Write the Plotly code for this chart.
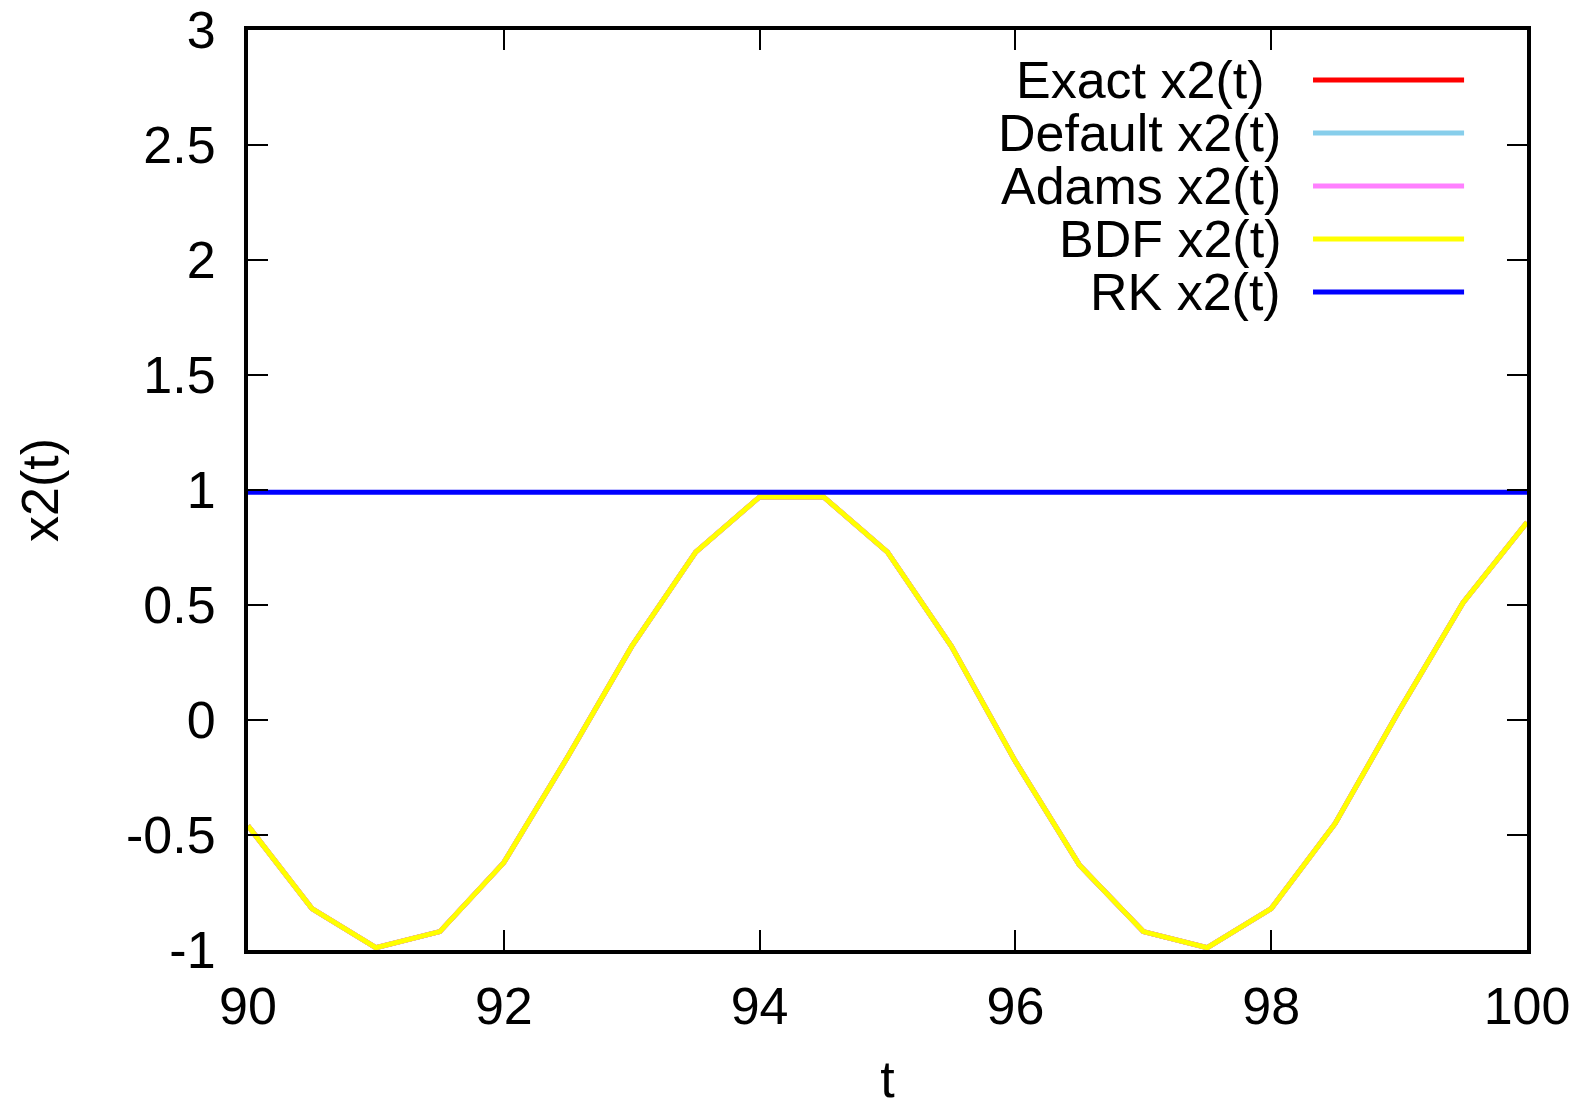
import plotly.graph_objects as go

t = [90, 90.5, 91, 91.5, 92, 92.5, 93, 93.5, 94, 94.5, 95, 95.5, 96, 96.5, 97, 97.5, 98, 98.5, 99, 99.5, 100]
exact = [-0.46, -0.82, -0.99, -0.92, -0.62, -0.16, 0.32, 0.73, 0.97, 0.97, 0.73, 0.32, -0.18, -0.63, -0.92, -0.99, -0.82, -0.45, 0.04, 0.51, 0.86]
default = list(exact)
adams = list(exact)
bdf = list(exact)
rk = [0.99] * len(t)

names = ["Exact x2(t)", "Default x2(t)", "Adams x2(t)", "BDF x2(t)", "RK x2(t)"]
colors = ["#ff0000", "#87ceeb", "#ff80ff", "#ffff00", "#0000ff"]
series = [exact, default, adams, bdf, rk]

xticks = [90, 92, 94, 96, 98, 100]
yticks = [-1, -0.5, 0, 0.5, 1, 1.5, 2, 2.5, 3]
yticktext = ["-1", "-0.5", "0", "0.5", "1", "1.5", "2", "2.5", "3"]

FONT = "Liberation Sans, Arial, sans-serif"
FS = 52
fig = go.Figure()
for n, c, s in zip(names, colors, series):
    fig.add_trace(go.Scatter(x=t, y=s, mode="lines", name=n,
                             line=dict(color=c, width=5), showlegend=False))

# Manual gnuplot-style key: right-aligned text, sample line on the right
row_y = [0.9457, 0.888, 0.8304, 0.7728, 0.7152]
text_x = [0.797, 0.809, 0.809, 0.809, 0.809]
for n, c, yy, tx in zip(names, colors, row_y, text_x):
    fig.add_annotation(xref="paper", yref="paper", x=tx, y=yy, text=n,
                       showarrow=False, xanchor="right", yanchor="middle",
                       font=dict(family=FONT, size=FS, color="black"))
    fig.add_shape(type="line", xref="paper", yref="paper", x0=0.8327, x1=0.9508,
                  y0=yy, y1=yy, line=dict(color=c, width=5))

axis_common = dict(showline=True, linecolor="black", linewidth=4, mirror="allticks",
                   ticks="inside", ticklen=20, tickwidth=1.5, tickcolor="black",
                   showgrid=False, zeroline=False, automargin=False,
                   tickfont=dict(family=FONT, size=FS, color="black"))

fig.update_xaxes(range=[90, 100], tickvals=xticks, ticktext=[str(v) for v in xticks],
                 ticklabelstandoff=8,
                 title=dict(text="t", font=dict(family=FONT, size=FS, color="black"), standoff=36),
                 **axis_common)
fig.update_yaxes(range=[-1, 3], tickvals=yticks, ticktext=yticktext,
                 ticklabelstandoff=18,
                 title=dict(text="x2(t)", font=dict(family=FONT, size=FS, color="black"), standoff=52),
                 **axis_common)

fig.update_layout(width=1592, height=1108, paper_bgcolor="white", plot_bgcolor="white",
                  margin=dict(l=248, r=65, t=30, b=158),
                  font=dict(family=FONT, color="black"))

fig.write_html("out.html")
